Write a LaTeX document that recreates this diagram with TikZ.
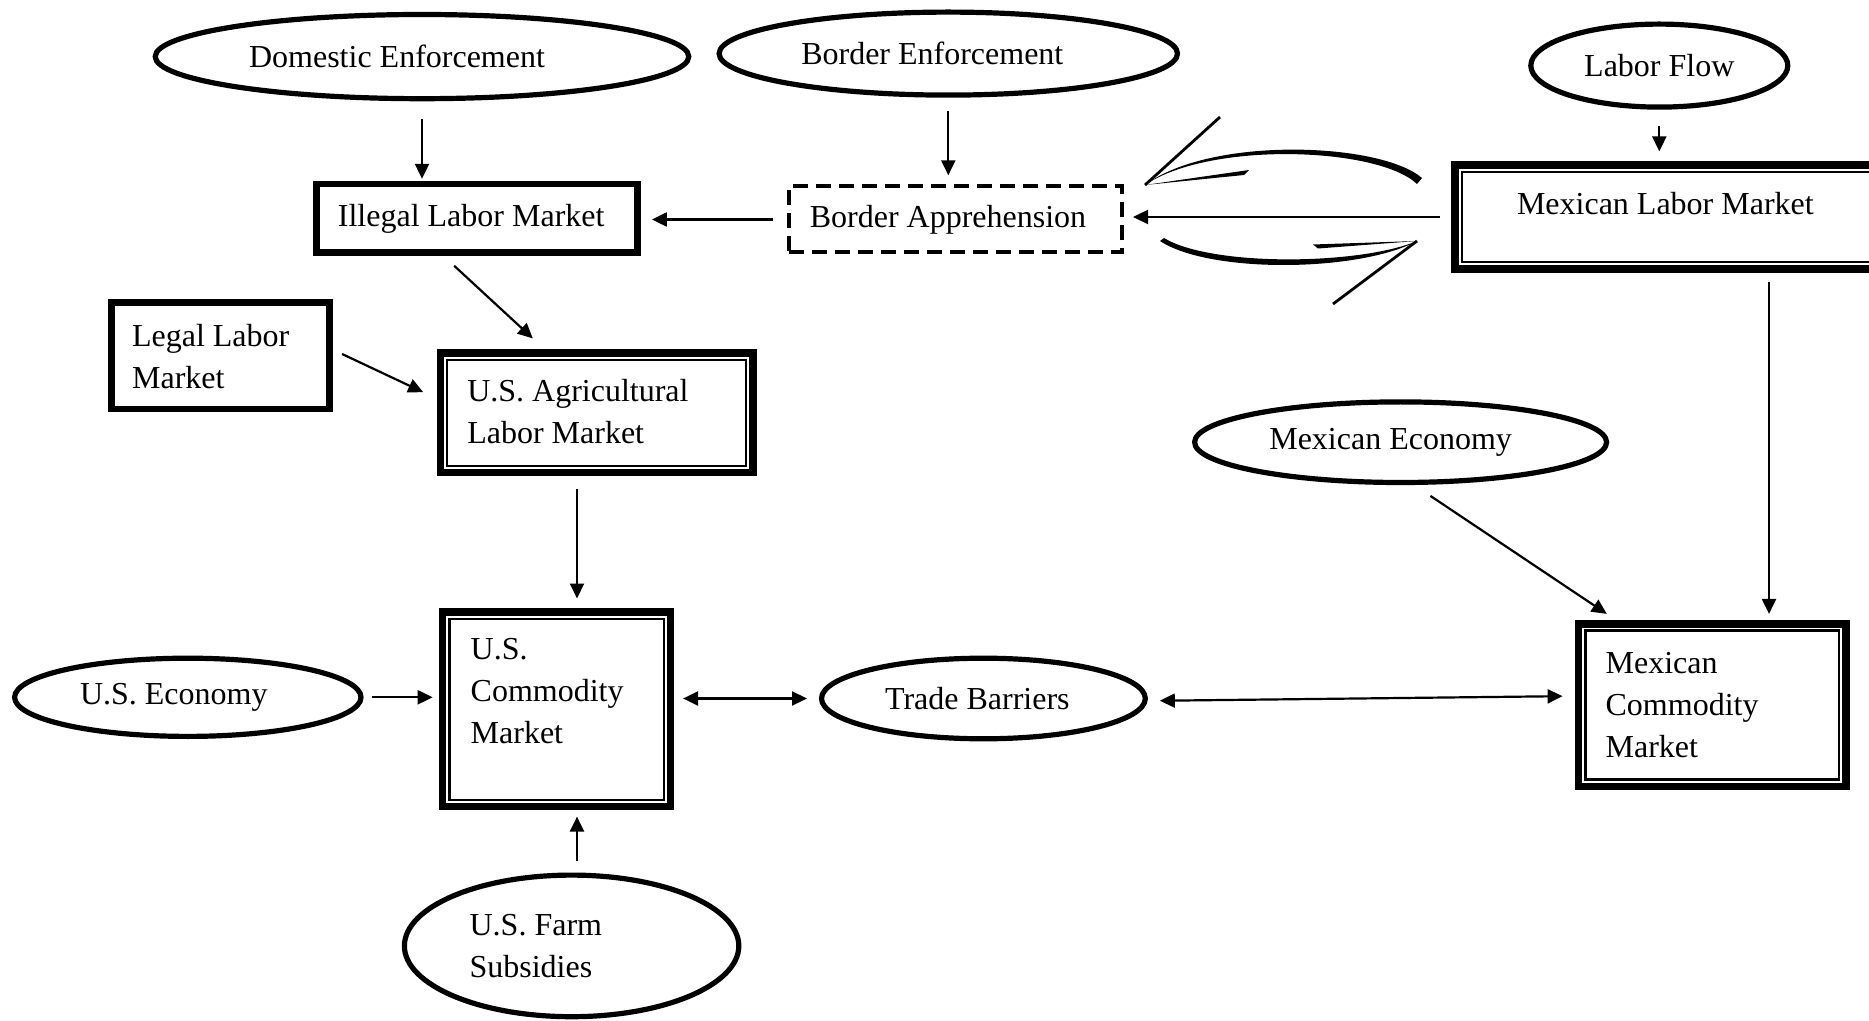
\documentclass[tikz,border=0pt]{standalone}
\usepackage{fontspec}
\setmainfont{Liberation Serif}
\usetikzlibrary{shapes.geometric,arrows.meta}
\tikzset{
  every node/.style={inner sep=0pt, outer sep=0pt, font=\fontsize{16}{21}\selectfont},
  oval/.style={ellipse, draw, line width=2.6pt},
  thickbox/.style={rectangle, draw, line width=3.3pt},
  dblbox/.style={rectangle, draw, line width=3.7pt},
  dashbox/.style={rectangle, draw, line width=2pt, dash pattern=on 7.5pt off 4pt},
  arr/.style={line width=1.1pt, -{Triangle[length=7.5pt,width=7pt]}},
  darr/.style={line width=1.1pt, {Triangle[length=7.5pt,width=7pt]}-{Triangle[length=7.5pt,width=7pt]}},
  barb/.style={line width=1.4pt},
  innerline/.style={line width=1.15pt}
}
\newcommand\boxtxt[5]{\parbox[c][#2][t]{#1}{\vspace*{#3}\leftskip=#4\relax\noindent #5\par}}
\newcommand\innerframe[1]{\draw[innerline] ([xshift=3.4pt,yshift=-3.4pt]#1.north west) rectangle ([xshift=-3.4pt,yshift=3.4pt]#1.south east);}
\begin{document}
\begin{tikzpicture}[x=0.5pt,y=-0.5pt]
\useasboundingbox (0,0) rectangle (1869,1021);
% ellipses
\node[oval, minimum width=266.8pt, minimum height=42.1pt] (DE) at (422,56.6) {\hspace*{-25pt}Domestic Enforcement};
\node[oval, minimum width=229.2pt, minimum height=41.5pt] (BE) at (948.3,53.6) {\hspace*{-16pt}Border Enforcement};
\node[oval, minimum width=128.5pt, minimum height=41.5pt] (LF) at (1659.3,65.6) {Labor Flow};
\node[oval, minimum width=206pt, minimum height=40.3pt] (ME) at (1400.6,442.2) {\hspace*{-10pt}Mexican Economy};
\node[oval, minimum width=173.2pt, minimum height=39.1pt] (USE) at (187.8,697.3) {\hspace*{-14pt}U.S. Economy};
\node[oval, minimum width=161.9pt, minimum height=40.3pt] (TB) at (983.4,698.5) {\hspace*{-6pt}Trade Barriers};
\node[oval, minimum width=167.2pt, minimum height=70.8pt] (FS) at (571.6,945.9) {\parbox{102pt}{U.S. Farm\\Subsidies}};
% boxes
\node[thickbox, minimum width=160.5pt, minimum height=34.3pt] (IL) at (477.2,218.5) {\hspace*{-6pt}Illegal Labor Market};
\node[dashbox, minimum width=166.5pt, minimum height=33pt] (BA) at (955,219.5) {\hspace*{-7pt}Border Apprehension};
\node[dblbox] (ML) at (1670,217) {\boxtxt{215pt}{52pt}{13.6pt}{31pt}{Mexican Labor Market}};
\node[thickbox] (LL) at (220.5,355.8) {\boxtxt{108.8pt}{53.4pt}{10.9pt}{10.2pt}{Legal Labor\\Market}};
\node[dblbox] (AG) at (596.6,413) {\boxtxt{156.3pt}{59.8pt}{12.85pt}{13.5pt}{U.S. Agricultural\\Labor Market}};
\node[dblbox] (USC) at (556.7,709.3) {\boxtxt{114pt}{97.3pt}{13.4pt}{14pt}{U.S.\\Commodity\\Market}};
\node[dblbox] (MC) at (1712.3,705) {\boxtxt{133.7pt}{81.2pt}{14.1pt}{13.5pt}{Mexican\\Commodity\\Market}};
\innerframe{ML}
\innerframe{AG}
\innerframe{USC}
\innerframe{MC}
% connectors
\draw[arr, shorten <=10.25pt, shorten >=2.7pt] (DE.south) -- (DE.south |- IL.north);
\draw[arr, shorten <=7.9pt, shorten >=5.6pt] (BE.south) -- (BE.south |- BA.north);
\draw[arr, shorten <=9.6pt, shorten >=6.8pt] (LF.south) -- (LF.south |- ML.north);
\draw[arr, shorten <=8pt, shorten >=7.1pt] (BA.west) -- (BA.west -| IL.east);
\draw[arr, shorten <=7.5pt, shorten >=5.75pt] (ML.west) -- (ML.west -| BA.east);
\draw[arr] ([xshift=-11.5pt,yshift=-6.5pt]IL.south) -- ([xshift=-31.9pt,yshift=7.4pt]AG.north);
\draw[arr] ([xshift=6.4pt,yshift=0.9pt]LL.east) -- ([xshift=-8.55pt,yshift=10.4pt]AG.west);
\draw[arr, shorten <=8pt, shorten >=6.75pt] ([xshift=-9.8pt]AG.south) -- ([xshift=-9.8pt]AG.south |- USC.north);
\draw[arr, shorten <=5.5pt, shorten >=5pt] (USE.east) -- (USE.east -| USC.west);
\draw[darr, shorten <=6.2pt, shorten >=7.25pt] (TB.west -| USC.east) -- (TB.west);
\draw[darr, shorten <=7.25pt, shorten >=8pt] ([yshift=-1.2pt]TB.east) -- ([yshift=4.5pt]MC.west);
\draw[arr, shorten <=7.25pt, shorten >=5pt] ([xshift=2.7pt]FS.north) -- ([xshift=2.7pt]FS.north |- USC.south);
\draw[arr] ([xshift=14.9pt,yshift=-6.7pt]ME.south) -- ([xshift=-52.75pt,yshift=4.95pt]MC.north);
\draw[arr, shorten <=6.75pt, shorten >=4.95pt] ([xshift=49.5pt]ML.south) -- ([xshift=49.5pt]ML.south |- MC.north);
% curved arrows (top: pointing left, bottom: pointing right)
\fill (1422,178) .. controls (1380,142) and (1210,136) .. (1145,185)
      .. controls (1210,141) and (1378,147) .. (1417,184) -- cycle;
\fill (1145,185) -- (1249,170) -- (1244,175) -- cycle;
\draw[barb] (1145,185) -- (1220,117);
\fill (1160,241) .. controls (1210,274) and (1360,272) .. (1417,241)
      .. controls (1360,265) and (1212,267) .. (1164,238) -- cycle;
\fill (1417,241) -- (1313,244.5) -- (1318,248.5) -- cycle;
\draw[barb] (1417,241) -- (1333,304);
\end{tikzpicture}
\end{document}
